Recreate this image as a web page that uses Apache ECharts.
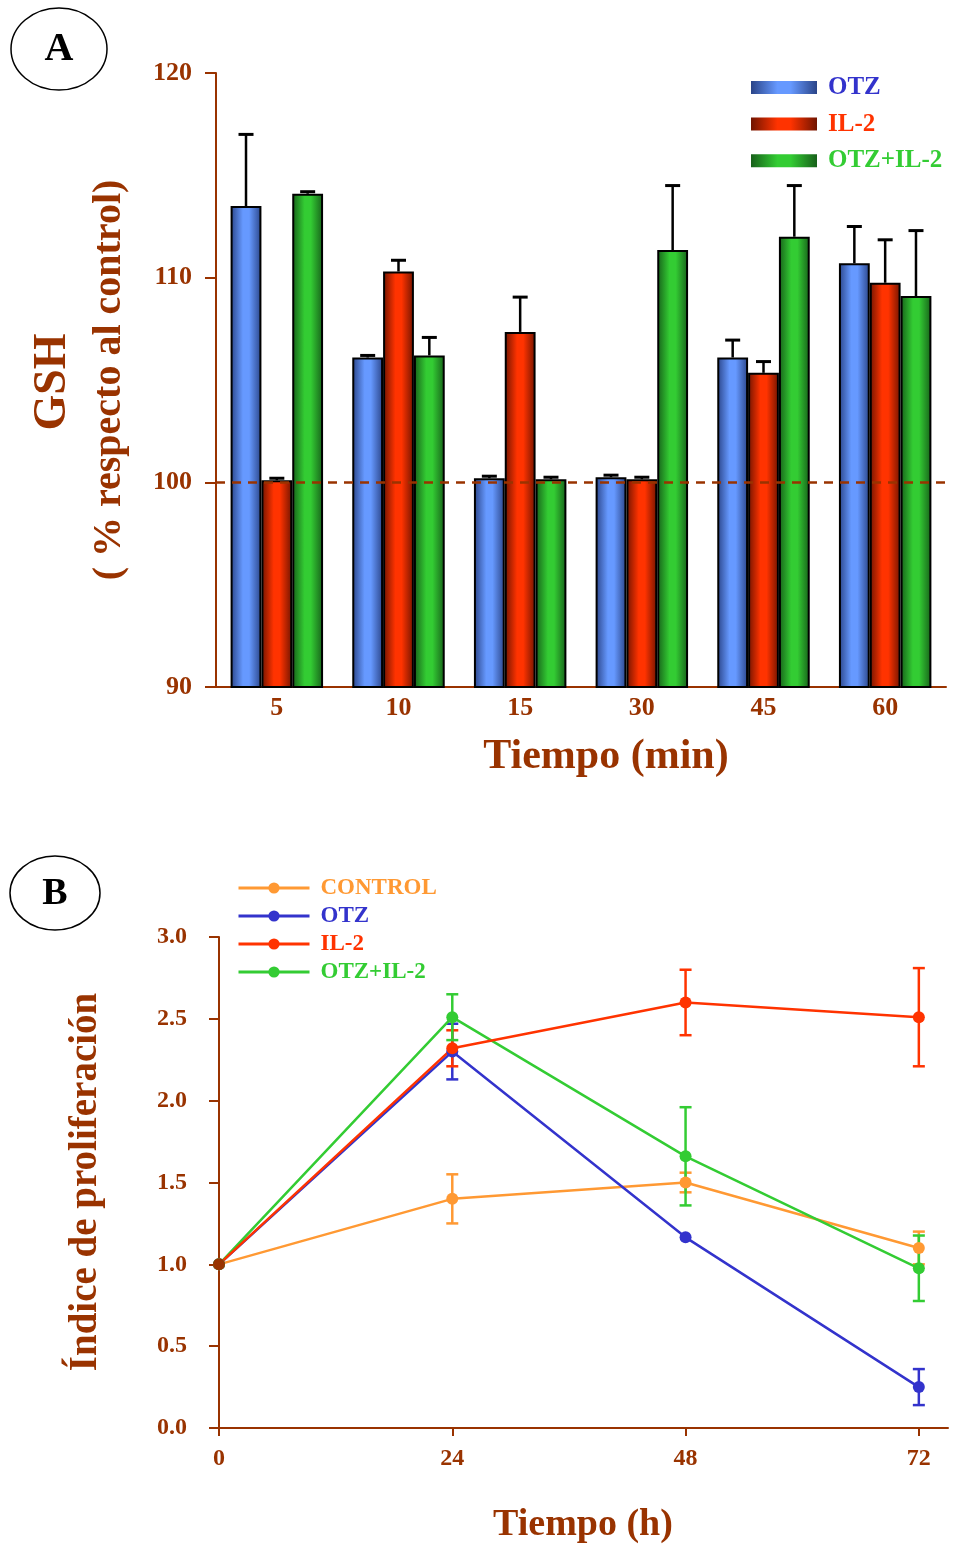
<!DOCTYPE html>
<html>
<head>
<meta charset="utf-8">
<script src="https://cdn.jsdelivr.net/npm/echarts@6/dist/echarts.min.js"></script>
<style>
  html, body { margin: 0; padding: 0; background: #fff; }
  #chart { width: 953px; height: 1548px; }
</style>
</head>
<body>
<div id="chart"></div>
<script>
// Panel A: GSH (% respecto al control) por tiempo (min)
const minutes = ['5', '10', '15', '30', '45', '60'];
const otzGsh = [113.5, 106.1, 100.2, 100.25, 106.1, 110.7];
const otzGshErr = [3.5, 0.1, 0.1, 0.1, 0.85, 1.8];
const il2Gsh = [100.1, 110.3, 107.35, 100.15, 105.35, 109.75];
const il2GshErr = [0.1, 0.55, 1.7, 0.1, 0.55, 2.1];
const comboGsh = [114.1, 106.2, 100.15, 111.35, 112.0, 109.1];
const comboGshErr = [0.1, 0.88, 0.1, 3.15, 2.5, 3.2];
const gshTicks = [90, 100, 110, 120];

// Panel B: índice de proliferación por tiempo (h)
const hours = [0, 24, 48, 72];
const controlProl = [1.0, 1.40, 1.50, 1.10];
const controlProlErr = [0, 0.15, 0.06, 0.10];
const otzProl = [1.0, 2.30, 1.165, 0.25];
const otzProlErr = [0, 0.17, 0, 0.11];
const il2Prol = [1.0, 2.32, 2.60, 2.51];
const il2ProlErr = [0, 0.11, 0.20, 0.30];
const comboProl = [1.0, 2.51, 1.66, 0.976];
const comboProlErr = [0, 0.14, 0.30, 0.20];

const BROWN = '#993300';
const SERIF = "'Liberation Serif', 'DejaVu Serif', serif";
const CAT_GAP = 0.24;

const chart = echarts.init(document.getElementById('chart'));

// degradado horizontal de las barras (borde oscuro, centro claro)
const barGradient = (dark, light) => ({
  type: 'linear', x: 0, y: 0, x2: 1, y2: 0,
  colorStops: [
    { offset: 0, color: dark },
    { offset: 0.4, color: light },
    { offset: 0.6, color: light },
    { offset: 1, color: dark }
  ]
});

const barSeries = (name, values, dark, light) => ({
  name: name,
  type: 'bar',
  xAxisIndex: 0,
  yAxisIndex: 0,
  data: values,
  barGap: '0%',
  barCategoryGap: (CAT_GAP * 100) + '%',
  itemStyle: { color: barGradient(dark, light), borderColor: '#000', borderWidth: 2 }
});

// barras de error (solo hacia arriba) para el panel A
const barErrorSeries = (values, errs, k) => ({
  type: 'custom',
  xAxisIndex: 0,
  yAxisIndex: 0,
  silent: true,
  z: 5,
  data: values.map((v, i) => [i, v, errs[i]]),
  renderItem: (params, api) => {
    const band = api.size([1, 0])[0];
    const w = band * (1 - CAT_GAP) / 3;
    const base = api.coord([api.value(0), api.value(1)]);
    const top = api.coord([api.value(0), api.value(1) + api.value(2)]);
    const x = base[0] + (k - 1) * w;
    return {
      type: 'group',
      children: [
        { type: 'line', shape: { x1: x, y1: base[1], x2: x, y2: top[1] }, style: { stroke: '#000', lineWidth: 2.5 } },
        { type: 'line', shape: { x1: x - 7.5, y1: top[1], x2: x + 7.5, y2: top[1] }, style: { stroke: '#000', lineWidth: 3 } }
      ]
    };
  }
});

const lineSeries = (name, values, color, firstColor) => ({
  name: name,
  type: 'line',
  xAxisIndex: 1,
  yAxisIndex: 1,
  data: values.map((v, i) => {
    const item = { value: [hours[i], v] };
    if (i === 0 && firstColor) item.itemStyle = { color: firstColor };
    return item;
  }),
  symbol: 'circle',
  symbolSize: 12,
  z: 4,
  lineStyle: { color: color, width: 2.5 },
  itemStyle: { color: color }
});

// barras de error simétricas para el panel B
const lineErrorSeries = (values, errs, color) => ({
  type: 'custom',
  xAxisIndex: 1,
  yAxisIndex: 1,
  silent: true,
  z: 3,
  data: values.map((v, i) => [hours[i], v, errs[i]]),
  renderItem: (params, api) => {
    const err = api.value(2);
    if (!err) return null;
    const hi = api.coord([api.value(0), api.value(1) + err]);
    const lo = api.coord([api.value(0), api.value(1) - err]);
    const x = hi[0];
    const style = { stroke: color, lineWidth: 2.5 };
    return {
      type: 'group',
      children: [
        { type: 'line', shape: { x1: x, y1: hi[1], x2: x, y2: lo[1] }, style: style },
        { type: 'line', shape: { x1: x - 6, y1: hi[1], x2: x + 6, y2: hi[1] }, style: style },
        { type: 'line', shape: { x1: x - 6, y1: lo[1], x2: x + 6, y2: lo[1] }, style: style }
      ]
    };
  }
});

const axisLineStyle = { lineStyle: { color: BROWN, width: 2 } };
const labelStyle = (size) => ({ color: BROWN, fontFamily: SERIF, fontWeight: 'bold', fontSize: size });

const panelLabel = (cx, cy, rx, ry, letter, size) => ([
  { type: 'ellipse', shape: { cx: cx, cy: cy, rx: rx, ry: ry }, style: { fill: '#fff', stroke: '#000', lineWidth: 1.5 } },
  { type: 'text', x: cx, y: cy + 1, style: { text: letter, fontFamily: SERIF, fontWeight: 'bold', fontSize: size, fill: '#000', align: 'center', verticalAlign: 'middle' } }
]);

const option = {
  backgroundColor: '#fff',
  animation: false,
  grid: [
    { left: 216, top: 73, width: 730, height: 614 },
    { left: 219, top: 937, width: 729, height: 491 }
  ],
  xAxis: [
    {
      gridIndex: 0,
      type: 'category',
      data: minutes,
      axisLine: axisLineStyle,
      axisTick: { show: false },
      axisLabel: Object.assign(labelStyle(26), { margin: 8 })
    },
    {
      gridIndex: 1,
      type: 'value',
      min: 0,
      max: 75,
      axisLine: axisLineStyle,
      axisTick: { show: true, length: 8, lineStyle: { color: BROWN, width: 2 }, customValues: hours },
      axisLabel: Object.assign(labelStyle(24), { margin: 19, customValues: hours }),
      splitLine: { show: false }
    }
  ],
  yAxis: [
    {
      gridIndex: 0,
      type: 'value',
      min: 90,
      max: 120,
      interval: 10,
      axisLine: { show: true, lineStyle: { color: BROWN, width: 2 } },
      axisTick: { show: true, length: 11, lineStyle: { color: BROWN, width: 2 }, customValues: gshTicks },
      axisLabel: Object.assign(labelStyle(26), { margin: 24, customValues: gshTicks }),
      splitLine: { show: false }
    },
    {
      gridIndex: 1,
      type: 'value',
      min: 0,
      max: 3,
      interval: 0.5,
      axisLine: { show: true, lineStyle: { color: BROWN, width: 2 } },
      axisTick: { show: true, length: 10, lineStyle: { color: BROWN, width: 2 } },
      axisLabel: Object.assign(labelStyle(24), { margin: 32, formatter: (v) => v.toFixed(1) }),
      splitLine: { show: false }
    }
  ],
  legend: [
    {
      data: [
        { name: 'OTZ', textStyle: { color: '#3333cc' } },
        { name: 'IL-2', textStyle: { color: '#ff3300' } },
        { name: 'OTZ+IL-2', textStyle: { color: '#33cc33' } }
      ],
      orient: 'vertical',
      left: 746,
      top: 70,
      icon: 'rect',
      itemWidth: 66,
      itemHeight: 13,
      itemGap: 11.6,
      selectedMode: false,
      itemStyle: { borderWidth: 0 },
      textStyle: { fontFamily: SERIF, fontWeight: 'bold', fontSize: 25, lineHeight: 25, padding: [0, 0, 0, 6] }
    },
    {
      data: [
        { name: 'CONTROL', textStyle: { color: '#ff9933' } },
        { name: 'OTZ ', textStyle: { color: '#3333cc' } },
        { name: 'IL-2 ', textStyle: { color: '#ff3300' } },
        { name: 'OTZ+IL-2 ', textStyle: { color: '#33cc33' } }
      ],
      orient: 'vertical',
      left: 232,
      top: 871,
      itemWidth: 71,
      itemHeight: 14,
      itemGap: 4,
      selectedMode: false,
      lineStyle: { width: 3 },
      formatter: (name) => name.trim(),
      textStyle: { fontFamily: SERIF, fontWeight: 'bold', fontSize: 23, lineHeight: 24, padding: [0, 0, 0, 6] }
    }
  ],
  graphic: [
    ...panelLabel(59, 49, 48, 41, 'A', 40),
    ...panelLabel(55, 893, 45, 37, 'B', 38),
    {
      type: 'text', x: 53, y: 382, rotation: Math.PI / 2,
      style: { text: 'GSH', fontFamily: SERIF, fontWeight: 'bold', fontSize: 46, fill: BROWN, align: 'center', verticalAlign: 'middle' }
    },
    {
      type: 'text', x: 110, y: 380, rotation: Math.PI / 2,
      style: { text: '( % respecto al control)', fontFamily: SERIF, fontWeight: 'bold', fontSize: 40, fill: BROWN, align: 'center', verticalAlign: 'middle' }
    },
    {
      type: 'text', x: 606, y: 757,
      style: { text: 'Tiempo (min)', fontFamily: SERIF, fontWeight: 'bold', fontSize: 42, fill: BROWN, align: 'center', verticalAlign: 'middle' }
    },
    {
      type: 'text', x: 86, y: 1182, rotation: Math.PI / 2,
      style: { text: 'Índice de proliferación', fontFamily: SERIF, fontWeight: 'bold', fontSize: 39, fill: BROWN, align: 'center', verticalAlign: 'middle' }
    },
    {
      type: 'text', x: 583, y: 1525,
      style: { text: 'Tiempo (h)', fontFamily: SERIF, fontWeight: 'bold', fontSize: 38, fill: BROWN, align: 'center', verticalAlign: 'middle' }
    }
  ],
  series: [
    Object.assign(barSeries('OTZ', otzGsh, '#2a4488', '#6699ff'), {
      markLine: {
        silent: true,
        symbol: 'none',
        label: { show: false },
        lineStyle: { color: BROWN, type: [9, 7], width: 2.5 },
        data: [{ yAxis: 100 }]
      }
    }),
    barSeries('IL-2', il2Gsh, '#701400', '#ff3300'),
    barSeries('OTZ+IL-2', comboGsh, '#17601a', '#33cc33'),
    barErrorSeries(otzGsh, otzGshErr, 0),
    barErrorSeries(il2Gsh, il2GshErr, 1),
    barErrorSeries(comboGsh, comboGshErr, 2),

    lineErrorSeries(controlProl, controlProlErr, '#ff9933'),
    lineErrorSeries(otzProl, otzProlErr, '#3333cc'),
    lineErrorSeries(il2Prol, il2ProlErr, '#ff3300'),
    lineErrorSeries(comboProl, comboProlErr, '#33cc33'),
    lineSeries('CONTROL', controlProl, '#ff9933'),
    lineSeries('OTZ ', otzProl, '#3333cc'),
    lineSeries('OTZ+IL-2 ', comboProl, '#33cc33'),
    lineSeries('IL-2 ', il2Prol, '#ff3300', BROWN)
  ]
};

chart.setOption(option);
</script>
</body>
</html>
